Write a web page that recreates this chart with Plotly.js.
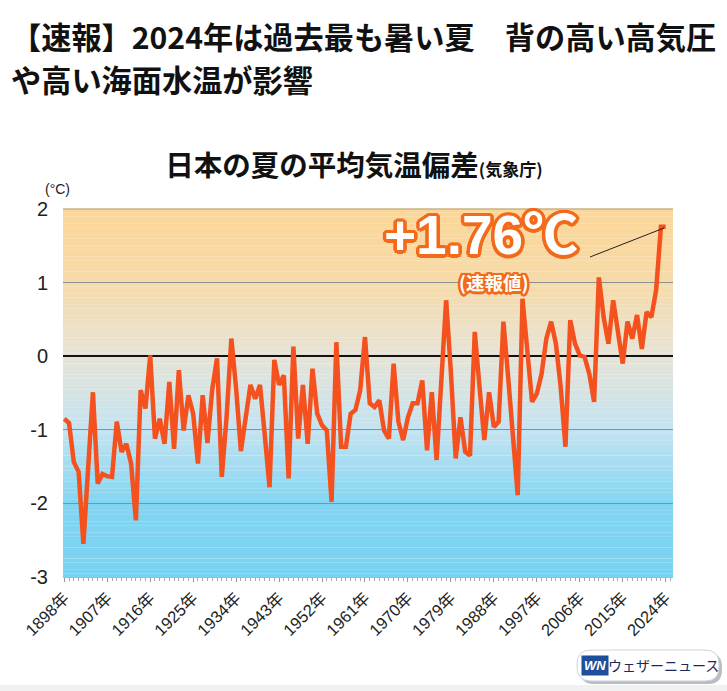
<!DOCTYPE html>
<html>
<head>
<meta charset="utf-8">
<script src="https://cdn.plot.ly/plotly-3.0.1.min.js"></script>
<style>
  html, body { margin: 0; padding: 0; background: #ffffff; }
  #chart { width: 727px; height: 691px; }
</style>
</head>
<body>
<div id="chart"></div>
<script>
// ---- data ----
const firstYear = 1898;
const anomalies = [
  -0.85, -0.91, -1.44, -1.57, -2.55, -1.62, -0.49, -1.73, -1.60, -1.63,
  -1.64, -0.89, -1.30, -1.19, -1.46, -2.23, -0.46, -0.71, 0.01, -1.12,
  -0.85, -1.19, -0.35, -1.26, -0.19, -1.01, -0.53, -0.78, -1.46, -0.53,
  -1.18, -0.45, -0.03, -1.64, -0.83, 0.24, -0.44, -1.29, -0.83, -0.39,
  -0.58, -0.39, -1.07, -1.78, -0.05, -0.39, -0.26, -1.66, 0.13, -1.12,
  -0.39, -1.19, -0.17, -0.78, -0.94, -1.01, -1.98, 0.19, -1.23, -1.23,
  -0.78, -0.73, -0.46, 0.26, -0.64, -0.69, -0.60, -1.01, -1.12, -0.10,
  -0.89, -1.14, -0.83, -0.64, -0.64, -0.33, -1.28, -0.49, -1.41, -0.40,
  0.76, -0.22, -1.39, -0.83, -1.30, -1.35, 0.33, -0.42, -1.14, -0.49,
  -0.96, -0.89, 0.47, -0.29, -1.06, -1.89, 0.78, 0.13, -0.62, -0.51,
  -0.24, 0.24, 0.47, 0.17, -0.42, -1.23, 0.49, 0.17, 0.01, -0.01,
  -0.24, -0.62, 1.07, 0.53, 0.17, 0.76, 0.31, -0.10, 0.47, 0.24,
  0.56, 0.10, 0.60, 0.53, 0.90, 1.76, 1.76
];
const years = anomalies.map((_, i) => firstYear + i);
const xTickVals = [1898, 1907, 1916, 1925, 1934, 1943, 1952, 1961, 1970, 1979, 1988, 1997, 2006, 2015, 2024];
const xTickText = xTickVals.map(y => y + '年');
const yTickVals = [-3, -2, -1, 0, 1, 2];
const yTickText = ['-3', '-2', '-1', '0', '1', '2'];
const latestLabel = '+1.76℃';
const latestNote = '(速報値)';

// ---- geometry helpers (plot area 63..673 x 209..577 px) ----
const L = 63, R = 673, T = 209, B = 577;
const PX = x => (x - L) / (R - L);
const PY = y => (B - y) / (B - T);

// ---- background gradient ----
const stops = [
  [2.0, [252, 214, 150]],
  [1.0, [246, 219, 170]],
  [0.0, [230, 227, 214]],
  [-1.0, [196, 227, 241]],
  [-2.0, [130, 213, 242]],
  [-3.0, [120, 210, 241]]
];
function colorAt(v) {
  for (let k = 0; k < stops.length - 1; k++) {
    const [v0, c0] = stops[k], [v1, c1] = stops[k + 1];
    if (v <= v0 && v >= v1) {
      const t = (v0 - v) / (v0 - v1);
      const c = c0.map((c, j) => Math.round(c + (c1[j] - c) * t));
      return `rgb(${c[0]},${c[1]},${c[2]})`;
    }
  }
  return 'rgb(120,210,241)';
}
const shapes = [];
const N = 100;
for (let k = 0; k < N; k++) {
  const y0 = -3 + 5 * k / N, y1 = -3 + 5 * (k + 1) / N;
  shapes.push({
    type: 'rect', xref: 'paper', yref: 'y', x0: 0, x1: 1, y0: y0, y1: y1 + 0.002,
    fillcolor: colorAt((y0 + y1) / 2), line: { width: 0 }, layer: 'below'
  });
}
// top border line
shapes.push({
  type: 'line', xref: 'paper', yref: 'paper', x0: 0, x1: 1, y0: 1, y1: 1,
  line: { color: '#c9b08a', width: 1.5 }
});
// pointer line for the annotation
shapes.push({
  type: 'line', xref: 'paper', yref: 'paper',
  x0: PX(590), y0: PY(257), x1: PX(664), y1: PY(228),
  line: { color: '#222', width: 1 }
});
// bottom strip
shapes.push({
  type: 'rect', xref: 'paper', yref: 'paper',
  x0: PX(0), x1: PX(727), y0: PY(685), y1: PY(691),
  fillcolor: '#f1f1f1', line: { width: 0 }
});
// logo pill
function pill(x0, y0, x1, y1, r) {
  const p = (x, y) => PX(x) + ',' + PY(y);
  return 'M' + p(x0 + r, y0) + ' L' + p(x1 - r, y0) + ' Q' + p(x1, y0) + ' ' + p(x1, y0 + r) +
    ' L' + p(x1, y1 - r) + ' Q' + p(x1, y1) + ' ' + p(x1 - r, y1) +
    ' L' + p(x0 + r, y1) + ' Q' + p(x0, y1) + ' ' + p(x0, y1 - r) +
    ' L' + p(x0, y0 + r) + ' Q' + p(x0, y0) + ' ' + p(x0 + r, y0) + ' Z';
}
shapes.push({ type: 'path', xref: 'paper', yref: 'paper', path: pill(580, 653, 722, 684, 14),
  fillcolor: '#b8bcc4', line: { width: 0 } });
shapes.push({ type: 'path', xref: 'paper', yref: 'paper', path: pill(577, 650, 719, 681, 14),
  fillcolor: '#ffffff', line: { color: '#d0d3da', width: 1 } });

// outline effect
function outline(color, r) {
  const parts = [];
  for (let a = 0; a < 16; a++) {
    const ang = a * Math.PI / 8;
    parts.push(`${(r * Math.cos(ang)).toFixed(1)}px ${(r * Math.sin(ang)).toFixed(1)}px 0 ${color}`);
  }
  return parts.join(', ');
}

const annotations = [
  { xref: 'paper', yref: 'paper', x: PX(9), y: PY(36), xanchor: 'left', yanchor: 'middle', showarrow: false,
    text: '【速報】2024年は過去最も暑い夏　背の高い高気圧',
    font: { family: 'Noto Sans CJK JP', size: 30.2, color: '#111', weight: 'bold' } },
  { xref: 'paper', yref: 'paper', x: PX(9), y: PY(79), xanchor: 'left', yanchor: 'middle', showarrow: false,
    text: 'や高い海面水温が影響',
    font: { family: 'Noto Sans CJK JP', size: 30.2, color: '#111', weight: 'bold' } },
  { xref: 'paper', yref: 'paper', x: PX(57), y: PY(189), xanchor: 'center', yanchor: 'middle', showarrow: false,
    text: '(°C)', font: { family: 'Liberation Sans', size: 14, color: '#222' } },
  { xref: 'paper', yref: 'paper', x: PX(481), y: PY(235), xanchor: 'center', yanchor: 'middle', showarrow: false,
    text: latestLabel,
    font: { family: 'Liberation Sans, Noto Sans CJK JP', size: 55, color: '#ffffff', weight: 'bold',
            shadow: outline('#f26a1b', 3.5) } },
  { xref: 'paper', yref: 'paper', x: PX(494), y: PY(282), xanchor: 'center', yanchor: 'middle', showarrow: false,
    text: latestNote,
    font: { family: 'Noto Sans CJK JP', size: 18.5, color: '#ffffff', weight: 'bold',
            shadow: outline('#f26a1b', 2.5) } },
  { xref: 'paper', yref: 'paper', x: PX(595), y: PY(665), xanchor: 'center', yanchor: 'middle', showarrow: false,
    text: '<i><b>WN</b></i>', bgcolor: '#1d4f9c', borderpad: 2,
    font: { family: 'Liberation Sans', size: 13, color: '#ffffff' } },
  { xref: 'paper', yref: 'paper', x: PX(663), y: PY(665), xanchor: 'center', yanchor: 'middle', showarrow: false,
    text: 'ウェザーニュース',
    font: { family: 'Noto Sans CJK JP', size: 14, color: '#1a2a5a' } }
];

const trace = {
  x: years, y: anomalies, type: 'scatter', mode: 'lines',
  line: { color: '#f4511e', width: 4.5, shape: 'linear' },
  hoverinfo: 'x+y'
};

const layout = {
  width: 727, height: 691,
  margin: { l: L, r: 727 - R, t: T, b: 691 - B, pad: 0 },
  paper_bgcolor: '#ffffff', plot_bgcolor: '#ffffff',
  showlegend: false,
  title: {
    text: '日本の夏の平均気温偏差<span style="font-size:17px">(気象庁)</span>',
    xref: 'container', yref: 'container', x: 354 / 727, y: 1 - 166 / 691,
    xanchor: 'center', yanchor: 'middle',
    font: { family: 'Noto Sans CJK JP', size: 28.5, color: '#111', weight: 'bold' }
  },
  xaxis: {
    range: [1897.73, 2025.53],
    tickmode: 'array', tickvals: xTickVals, ticktext: xTickText,
    tickangle: -45, ticks: 'outside', ticklen: 4, tickcolor: '#999',
    minor: { tickmode: 'linear', tick0: 1898, dtick: 1, ticks: 'outside', ticklen: 3, tickcolor: '#aaa', showgrid: false },
    showgrid: false, zeroline: false, showline: true, linecolor: '#b5b5b5', linewidth: 1,
    tickfont: { family: 'Liberation Sans, Noto Sans CJK JP', size: 16.5, color: '#222' },
    fixedrange: true
  },
  yaxis: {
    range: [-3, 2],
    tickmode: 'array', tickvals: yTickVals, ticktext: yTickText,
    ticks: '', ticklabelstandoff: 14,
    showgrid: true, gridcolor: '#8e8e8e', gridwidth: 1,
    zeroline: true, zerolinecolor: '#111', zerolinewidth: 1.5,
    showline: false,
    tickfont: { family: 'Liberation Sans', size: 20, color: '#222' },
    fixedrange: true
  },
  shapes: shapes,
  annotations: annotations
};

Plotly.newPlot('chart', [trace], layout, { displayModeBar: false, staticPlot: true });
</script>
</body>
</html>
